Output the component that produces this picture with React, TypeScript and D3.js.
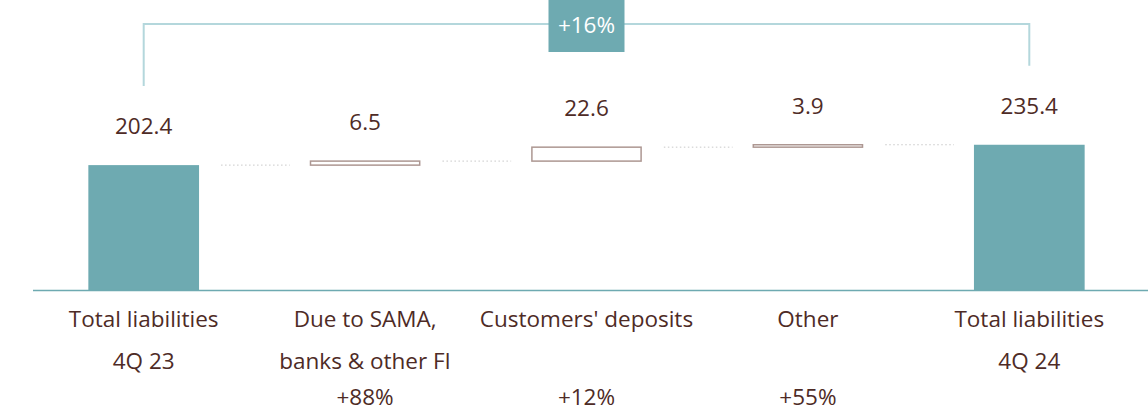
import React from "react";
import * as d3 from "d3";

const categories = ["Total liabilities|4Q 23", "Due to SAMA,|banks & other FI", "Customers' deposits", "Other", "Total liabilities|4Q 24"];
const values = [202.4, 6.5, 22.6, 3.9, 235.4];
const kinds = ["total", "delta", "delta", "delta", "total"];
const growth = ["", "+88%", "+12%", "+55%", ""];
const overallGrowth = "+16%";

const W = 1148, H = 412;
const TEXT = "#4e2b26";
const TEAL = "#6eaab1";
const BRACKET = "#b4d7dc";
const FLOAT = "#ad9792";
const FONT = "'Open Sans', sans-serif";
const FS = 22.5;

export default function App() {
  const x = d3.scaleBand<number>().domain(d3.range(categories.length)).range([33, 1140]).paddingInner(0.5).paddingOuter(0.25);
  const y = d3.scaleLinear().domain([0, 470]).range([290, 0]);

  let run = 0;
  const bars = values.map((v, i) => {
    let lo: number, hi: number;
    if (kinds[i] === "total") { lo = 0; hi = v; run = v; }
    else { lo = run; hi = run + v; run = hi; }
    return { i, lo, hi, v, kind: kinds[i] };
  });
  const bw = x.bandwidth();
  const cx = (i: number) => (x(i) as number) + bw / 2;

  const bx0 = cx(0), bx1 = cx(values.length - 1);
  const bracketTop = 24;
  const badgeCx = (bx0 + bx1) / 2;

  return (
    <svg width={W} height={H} style={{ position: "absolute", left: 0, top: 0 }} fontFamily={FONT}>
      {/* bracket */}
      <path d={`M${bx0},${y(bars[0].hi) - 79} V${bracketTop} H${bx1} V${y(bars[4].hi) - 79}`} fill="none" stroke={BRACKET} strokeWidth={2} />
      <rect x={badgeCx - 38} y={0} width={76} height={52} fill={TEAL} />
      <text x={badgeCx} y={33} textAnchor="middle" fill="#fff" fontSize={FS}>{overallGrowth}</text>

      {/* connectors */}
      {bars.slice(0, -1).map((b, k) => {
        const lvl = b.hi;
        return (
          <line key={"c" + k} x1={(x(k) as number) + bw + 22} x2={(x(k + 1) as number) - 20} y1={y(lvl)} y2={y(lvl)} stroke="#c8c8c8" strokeWidth={1} strokeDasharray="1.5 2.5" />
        );
      })}

      {/* bars */}
      {bars.map((b) =>
        b.kind === "total" ? (
          <rect key={"b" + b.i} x={x(b.i)} y={y(b.hi)} width={bw} height={y(b.lo) - y(b.hi)} fill={TEAL} />
        ) : (
          <rect key={"b" + b.i} x={(x(b.i) as number) + 0.75} y={y(b.hi)} width={bw - 1.5} height={Math.max(1.5, y(b.lo) - y(b.hi))} fill="#fff" stroke={FLOAT} strokeWidth={1.5} />
        )
      )}

      {/* baseline */}
      <line x1={33} x2={W} y1={290.5} y2={290.5} stroke={TEAL} strokeWidth={1.5} />

      {/* value labels */}
      {bars.map((b) => (
        <text key={"v" + b.i} x={cx(b.i)} y={y(b.hi) - 31} textAnchor="middle" fill={TEXT} fontSize={FS}>{b.v.toFixed(1)}</text>
      ))}

      {/* category labels */}
      {categories.map((c, i) => (
        <g key={"l" + i}>
          {c.split("|").map((line, j) => (
            <text key={j} x={cx(i)} y={327 + j * 42} textAnchor="middle" fill={TEXT} fontSize={FS}>{line}</text>
          ))}
          {growth[i] && <text x={cx(i)} y={405} textAnchor="middle" fill={TEXT} fontSize={FS}>{growth[i]}</text>}
        </g>
      ))}
    </svg>
  );
}
